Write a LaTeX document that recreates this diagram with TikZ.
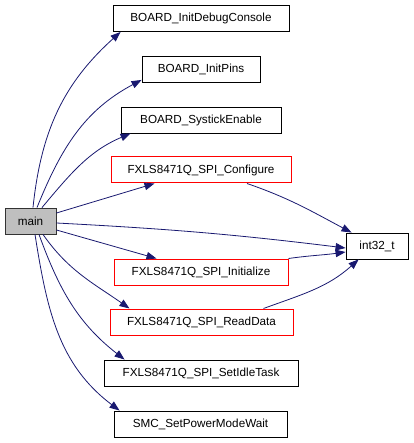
\documentclass[tikz,border=0pt]{standalone}
\usepackage{fontspec}
\setmainfont{Liberation Sans}
\usepackage{xcolor}
\usetikzlibrary{arrows.meta,positioning}
\definecolor{edgeblue}{HTML}{191970}
\definecolor{mainfill}{HTML}{BFBFBF}
\definecolor{redborder}{HTML}{FF0000}
\tikzset{
  fn/.style={draw=black, fill=white, line width=0.9pt, align=center,
             minimum height=26pt, inner sep=2pt, text=black,
             font=\fontsize{11.7}{14}\selectfont},
  fnred/.style={fn, draw=redborder, line width=1pt},
  fnmain/.style={fn, fill=mainfill, draw=black!80},
  call/.style={-{Triangle[length=10pt,width=7.5pt]}, draw=edgeblue,
               line width=0.8pt}
}

\begin{document}
\begin{tikzpicture}[x=1pt,y=-1pt]
  \useasboundingbox (0,0) rectangle (413,443);
  \node[fnmain, minimum width=51pt] (main) at (30.5,221) {main};
  \node[fn, minimum width=176pt] (dbg) at (201,18.5) {BOARD\_InitDebugConsole};
  \node[fn, minimum width=118pt] (pins) at (201,69.5) {BOARD\_InitPins};
  \node[fn, minimum width=160pt] (systick) at (201,120) {BOARD\_SystickEnable};
  \node[fnred, minimum width=180pt] (cfg) at (201,170) {FXLS8471Q\_SPI\_Configure};
  \node[fn, minimum width=62pt] (int32) at (377,246) {int32\_t};
  \node[fnred, minimum width=174pt] (init) at (201,272) {FXLS8471Q\_SPI\_Initialize};
  \node[fnred, minimum width=183pt] (read) at (201.5,322) {FXLS8471Q\_SPI\_ReadData};
  \node[fn, minimum width=194pt] (idle) at (201,373) {FXLS8471Q\_SPI\_SetIdleTask};
  \node[fn, minimum width=173pt] (smc) at (200.5,424) {SMC\_SetPowerModeWait};
  % calls out of main
  \draw[call] ([xshift=2.5pt]main.north) to[out=84,in=-138] ([xshift=8pt]dbg.south west);
  \draw[call] ([xshift=6.5pt]main.north) to[out=68,in=-152] ([yshift=3pt]pins.south west);
  \draw[call] ([xshift=11.5pt]main.north) to[out=50,in=-157] ([xshift=10pt]systick.south west);
  \draw[call] ([yshift=8pt]main.east) -- ([xshift=44pt]cfg.south west);
  \draw[call] ([yshift=-2pt]main.east) to[out=-3,in=173] ([yshift=-2pt]int32.west);
  \draw[call] ([yshift=-9pt]main.east) -- ([xshift=43pt]init.north west);
  \draw[call] ([xshift=12.5pt]main.south) to[out=-55,in=145] ([xshift=20pt]read.north west);
  \draw[call] ([xshift=8.5pt]main.south) to[out=-70,in=142] ([xshift=21pt]idle.north west);
  \draw[call] ([xshift=4.5pt]main.south) to[out=-81,in=143] ([xshift=6pt]smc.north west);
  % calls into int32_t
  \draw[call] ([xshift=46pt]cfg.south) to[out=-19,in=152] ([xshift=6pt]int32.north west);
  \draw[call] (init.north east) to[out=8,in=-172] ([yshift=-6pt]int32.west);
  \draw[call] ([xshift=62pt]read.north) to[out=20,in=-138] ([xshift=13pt]int32.south west);
\end{tikzpicture}
\end{document}
